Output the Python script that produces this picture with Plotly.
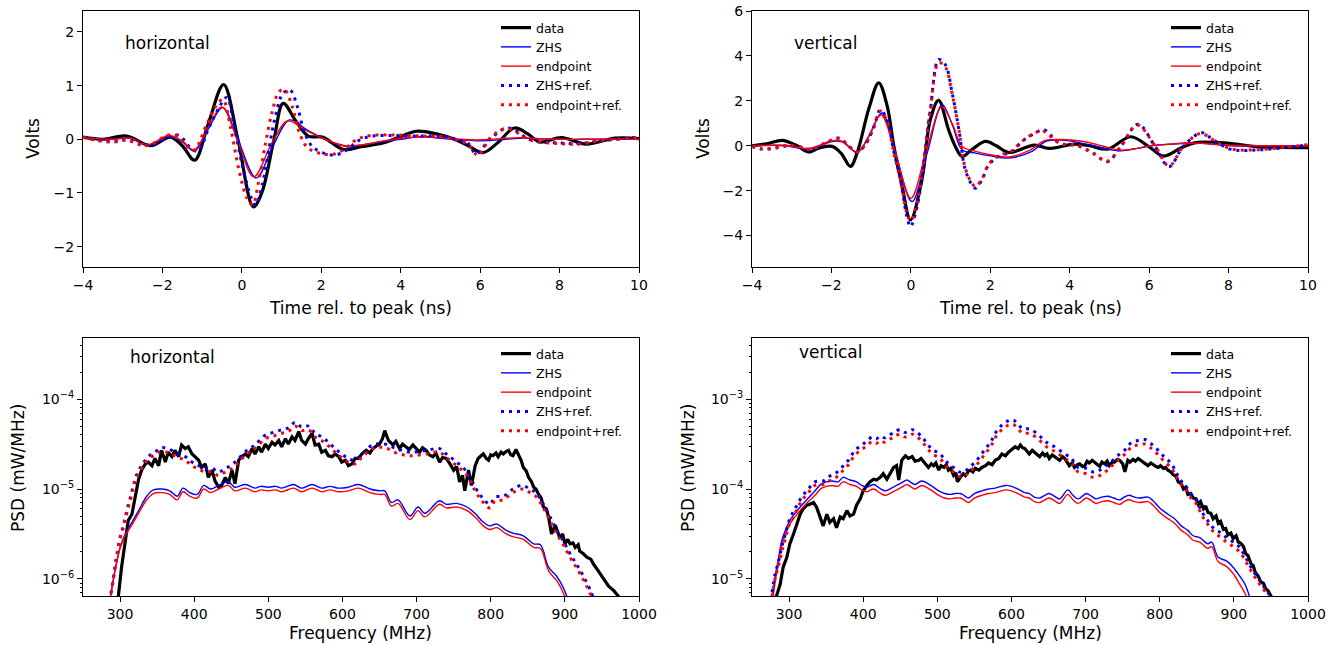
import numpy as np
import plotly.graph_objects as go

# ---------------- Top-left: horizontal time traces (ns, Volts) ----------------
h_t_data = [-4.0, -3.5, -2.9, -2.3, -1.8, -1.5, -1.19, -0.85, -0.46, -0.1, 0.29, 0.5, 0.81, 1.04, 1.35, 1.67, 2.03, 2.56, 3.0, 3.55,
            4.0, 4.4, 4.9, 5.35, 5.7, 6.07, 6.45, 6.86, 7.2, 7.5, 8.05, 8.67, 9.4, 10.0]
h_v_data = [0.04, 0.0, 0.06, -0.12, 0.04, -0.12, -0.39, 0.28, 1.02, 0.0, -1.26, -1.0, 0.0, 0.67, 0.35, 0.06, 0.04, -0.19, -0.14, -0.07,
            0.05, 0.15, 0.1, 0.0, -0.12, -0.25, -0.06, 0.21, 0.1, -0.05, 0.03, -0.09, 0.02, 0.01]

h_t_zhs = [-4.0, -3.3, -2.8, -2.37, -1.82, -1.5, -1.19, -0.86, -0.48, -0.1, 0.36, 0.8, 1.2, 1.65, 2.15, 2.66, 3.08, 3.5, 4.0, 4.5,
           5.0, 5.5, 6.0, 6.5, 7.0, 7.5, 8.0, 9.0, 10.0]
h_v_zhs = [0.03, 0.0, 0.02, -0.11, 0.04, -0.05, -0.22, 0.17, 0.59, 0.0, -0.72, -0.1, 0.36, 0.17, -0.02, -0.14, -0.1, -0.05, 0.0, 0.05,
           0.02, -0.01, -0.03, -0.01, 0.02, 0.01, 0.0, 0.0, 0.0]

h_t_end = [-4.0, -3.3, -2.8, -2.37, -1.85, -1.5, -1.2, -0.86, -0.5, -0.12, 0.3, 0.75, 1.15, 1.6, 2.1, 2.6, 3.05, 3.5, 4.0, 4.5,
           5.0, 5.5, 6.0, 6.5, 7.0, 7.5, 8.0, 9.0, 10.0]
h_v_end = [0.03, 0.0, 0.02, -0.1, 0.07, -0.03, -0.2, 0.2, 0.6, 0.0, -0.7, -0.08, 0.34, 0.17, 0.0, -0.12, -0.1, -0.04, 0.02, 0.04,
           0.03, 0.0, -0.01, 0.01, 0.03, 0.01, 0.0, 0.0, 0.0]

h_t_zhsref = [-4.0, -3.6, -3.2, -2.9, -2.33, -1.78, -1.57, -1.32, -1.11, -0.82, -0.57, -0.38, -0.19, 0.02, 0.23, 0.34, 0.52, 0.69, 0.86, 1.03,
              1.21, 1.4, 1.57, 1.78, 2.11, 2.37, 2.62, 2.95, 3.29, 3.8, 4.5, 5.0, 5.35, 5.7, 5.9, 6.25, 6.7, 7.3, 8.0, 8.5,
              9.0, 10.0]
h_v_zhsref = [0.04, -0.02, -0.04, -0.01, -0.11, 0.06, 0.07, -0.14, -0.22, 0.23, 0.6, 0.78, 0.23, -0.52, -1.08, -1.23, -0.83, -0.14, 0.48, 0.85,
              0.92, 0.6, 0.14, -0.14, -0.27, -0.29, -0.21, -0.02, 0.06, 0.07, 0.06, 0.06, 0.01, -0.08, -0.27, 0.0, 0.21, -0.02, -0.07, -0.08,
              -0.03, 0.04]

h_t_endref = [-4.0, -3.6, -3.2, -2.9, -2.4, -1.85, -1.65, -1.4, -1.2, -0.9, -0.65, -0.48, -0.28, -0.08, 0.13, 0.27, 0.42, 0.59, 0.76, 0.93,
              1.07, 1.28, 1.45, 1.66, 2.03, 2.3, 2.55, 2.9, 3.25, 3.8, 4.5, 5.0, 5.35, 5.7, 5.95, 6.25, 6.65, 7.3, 8.0, 8.5,
              9.0, 10.0]
h_v_endref = [0.04, -0.03, -0.05, -0.02, -0.12, 0.08, 0.07, -0.12, -0.2, 0.25, 0.62, 0.74, 0.2, -0.55, -1.1, -1.22, -0.8, -0.1, 0.5, 0.88,
              0.93, 0.58, 0.12, -0.16, -0.27, -0.28, -0.2, 0.0, 0.07, 0.08, 0.06, 0.05, 0.0, -0.1, -0.3, 0.02, 0.2, -0.02, -0.08, -0.09,
              -0.03, 0.03]

# ---------------- Top-right: vertical time traces ----------------
v_t_data = [-4.0, -3.6, -3.24, -2.9, -2.57, -2.3, -1.98, -1.75, -1.52, -1.35, -1.05, -0.81, -0.6, -0.43, -0.22, -0.01, 0.28, 0.49, 0.70, 0.95,
            1.12, 1.29, 1.55, 1.88, 2.15, 2.47, 3.11, 3.48, 4.12, 4.5, 4.95, 5.54, 6.0, 6.36, 6.8, 7.14, 8.06, 8.7, 10.0]
v_v_data = [0.0, 0.1, 0.24, 0.03, -0.28, -0.1, -0.03, -0.35, -0.92, -0.3, 1.7, 2.8, 1.8, 0.0, -1.8, -3.3, -1.5, 1.16, 2.02, 0.71,
            -0.03, -0.48, -0.15, 0.19, 0.0, -0.3, 0.03, -0.12, 0.07, 0.0, -0.15, 0.4, -0.05, -0.46, -0.1, 0.13, 0.1, -0.04, -0.09]

v_t_zhs = [-4.0, -3.16, -2.57, -1.98, -1.73, -1.35, -1.06, -0.73, -0.39, 0.03, 0.41, 0.79, 1.05, 1.29, 1.63, 2.0, 2.47, 3.05, 3.4, 3.8,
           4.2, 4.6, 4.95, 5.3, 5.7, 6.04, 6.6, 7.14, 8.06, 9.0, 10.0]
v_v_zhs = [0.0, 0.0, -0.15, 0.19, 0.17, -0.3, 0.42, 1.46, -0.3, -2.49, -0.33, 1.83, 0.9, -0.18, -0.33, -0.45, -0.55, -0.25, 0.2, 0.25,
           0.15, 0.0, -0.16, -0.22, -0.12, 0.0, 0.08, 0.13, 0.0, 0.0, 0.0]

v_t_end = [-4.0, -3.16, -2.57, -1.98, -1.73, -1.35, -1.06, -0.75, -0.4, 0.0, 0.38, 0.78, 1.05, 1.29, 1.63, 2.0, 2.47, 3.0, 3.35, 3.8,
           4.3, 4.7, 5.0, 5.3, 5.7, 6.04, 6.6, 7.14, 8.06, 9.0, 10.0]
v_v_end = [0.0, 0.02, -0.12, 0.22, 0.2, -0.28, 0.42, 1.38, -0.25, -2.34, -0.3, 1.73, 0.95, -0.03, -0.25, -0.4, -0.5, -0.2, 0.22, 0.28,
           0.2, 0.05, -0.1, -0.2, -0.12, 0.0, 0.08, 0.12, 0.02, 0.0, 0.0]

v_t_zhsref = [-4.0, -3.75, -3.41, -3.08, -2.78, -2.53, -2.19, -1.82, -1.57, -1.36, -1.15, -0.94, -0.77, -0.6, -0.43, -0.26, -0.1, -0.01, 0.16, 0.32,
              0.49, 0.70, 0.87, 1.04, 1.21, 1.37, 1.54, 1.63, 1.79, 1.96, 2.21, 2.55, 2.8, 3.14, 3.35, 3.75, 4.2, 4.6, 4.95, 5.3,
              5.72, 6.14, 6.5, 6.87, 7.33, 7.6, 8.06, 8.7, 9.43, 10.0]
v_v_zhsref = [-0.03, -0.15, -0.1, 0.0, -0.06, -0.18, 0.07, 0.34, 0.0, -0.3, 0.04, 0.79, 1.6, 1.16, -0.25, -1.52, -3.15, -3.6, -2.7, -0.77,
              1.6, 3.84, 3.6, 2.35, 0.71, -1.07, -1.74, -1.89, -1.52, -0.85, -0.48, -0.25, 0.19, 0.57, 0.72, 0.1, 0.0, -0.35, -0.71, 0.0,
              0.96, 0.0, -0.93, 0.0, 0.58, 0.28, -0.16, -0.19, -0.08, 0.04]

v_t_endref = [-4.0, -3.75, -3.41, -3.08, -2.78, -2.53, -2.19, -1.82, -1.57, -1.36, -1.15, -0.94, -0.77, -0.6, -0.43, -0.26, -0.1, 0.0, 0.16, 0.32,
              0.49, 0.70, 0.87, 1.04, 1.21, 1.37, 1.54, 1.63, 1.79, 1.96, 2.21, 2.55, 2.8, 3.14, 3.3, 3.75, 4.2, 4.6, 4.95, 5.3,
              5.7, 6.14, 6.5, 6.87, 7.3, 7.6, 8.06, 8.7, 9.43, 10.0]
v_v_endref = [-0.03, -0.14, -0.1, 0.02, -0.05, -0.16, 0.1, 0.32, 0.0, -0.28, 0.06, 0.82, 1.55, 1.1, -0.3, -1.55, -3.0, -3.35, -2.55, -0.72,
              1.6, 3.7, 3.5, 2.3, 0.72, -1.0, -1.68, -1.82, -1.48, -0.82, -0.45, -0.22, 0.2, 0.58, 0.68, 0.12, 0.02, -0.33, -0.68, 0.0,
              0.92, 0.02, -0.9, 0.0, 0.55, 0.27, -0.14, -0.18, -0.07, 0.05]

# ---------------- Bottom-left: horizontal PSD (MHz, log10 of mW/MHz) ----------------
hf_data = [294, 298, 302, 307, 311, 316, 320, 325, 329, 334,
           338, 343, 347, 352, 356, 361, 365, 370, 374, 379,
           383, 388, 392, 397, 401, 406, 410, 415, 419, 424,
           428, 433, 437, 442, 446, 451, 455, 460, 464, 469,
           473, 478, 482, 487, 491, 496, 500, 505, 509, 514,
           518, 523, 527, 532, 536, 541, 545, 550, 554, 559,
           563, 568, 572, 577, 581, 586, 590, 595, 599, 604,
           608, 613, 617, 622, 626, 632, 637, 641, 646, 650,
           654, 657, 662, 668, 672, 677, 681, 686, 690, 695,
           700, 704, 708, 713, 717, 722, 726, 731, 735, 740,
           745, 750, 754, 758, 762, 765, 770, 774, 779, 783,
           787, 790, 794, 797, 800, 803, 807, 810, 814, 817,
           821, 824, 827, 830, 834, 837, 841, 844, 848, 851,
           855, 858, 861, 864, 868, 871, 875, 878, 882, 887,
           893, 897, 900, 904, 907, 911, 914, 918, 920, 925,
           930, 935, 939, 945, 952, 959, 966, 972, 977]
hL_data = [-6.35, -6.17, -5.87, -5.58, -5.35, -5.28, -5.09, -4.89, -4.79, -4.72,
           -4.70, -4.74, -4.66, -4.74, -4.57, -4.70, -4.59, -4.64, -4.57, -4.64,
           -4.51, -4.55, -4.53, -4.61, -4.64, -4.68, -4.76, -4.72, -4.87, -4.79,
           -4.91, -4.98, -4.96, -4.87, -4.94, -4.79, -4.94, -4.68, -4.64, -4.61,
           -4.64, -4.55, -4.61, -4.53, -4.59, -4.50, -4.55, -4.48, -4.51, -4.46,
           -4.53, -4.44, -4.50, -4.42, -4.46, -4.36, -4.46, -4.50, -4.44, -4.38,
           -4.51, -4.50, -4.59, -4.57, -4.63, -4.64, -4.61, -4.64, -4.70, -4.68,
           -4.74, -4.72, -4.66, -4.66, -4.61, -4.57, -4.60, -4.55, -4.52, -4.50,
           -4.44, -4.35, -4.46, -4.51, -4.47, -4.55, -4.50, -4.53, -4.56, -4.51,
           -4.55, -4.59, -4.54, -4.57, -4.62, -4.64, -4.60, -4.70, -4.65, -4.66,
           -4.72, -4.79, -4.75, -4.92, -4.85, -5.02, -4.79, -4.96, -4.74, -4.66,
           -4.63, -4.61, -4.66, -4.68, -4.62, -4.63, -4.60, -4.64, -4.59, -4.61,
           -4.58, -4.57, -4.62, -4.63, -4.56, -4.61, -4.68, -4.76, -4.80, -4.87,
           -4.92, -4.98, -5.00, -5.05, -5.10, -5.20, -5.22, -5.31, -5.50, -5.40,
           -5.54, -5.50, -5.61, -5.56, -5.61, -5.60, -5.65, -5.62, -5.69, -5.72,
           -5.76, -5.78, -5.84, -5.91, -5.99, -6.08, -6.13, -6.19, -6.30]

hf_model = [286, 293, 300, 307, 316, 325, 336, 345, 356, 367,
            377, 385, 394, 404, 413, 422, 433, 446, 455, 469,
            482, 490, 500, 510, 518, 534, 545, 559, 572, 583,
            595, 608, 622, 637, 650, 657, 666, 675, 691, 702,
            711, 731, 740, 754, 768, 780, 790, 799, 808, 821,
            830, 844, 858, 867, 878, 889, 898, 905]
hL_zhs = [-6.25, -5.91, -5.65, -5.50, -5.37, -5.24, -5.08, -5.01, -5.00, -5.02,
          -5.08, -4.99, -5.04, -5.06, -4.96, -5.00, -4.96, -4.92, -4.98, -4.95,
          -4.99, -4.97, -4.98, -4.97, -4.99, -4.95, -4.99, -4.95, -4.99, -4.97,
          -4.99, -4.98, -4.95, -5.00, -5.02, -5.02, -5.15, -5.12, -5.30, -5.20,
          -5.27, -5.13, -5.17, -5.16, -5.20, -5.28, -5.37, -5.41, -5.39, -5.46,
          -5.49, -5.52, -5.61, -5.62, -5.87, -5.97, -6.10, -6.25]
hL_end = [-6.25, -5.92, -5.66, -5.52, -5.40, -5.27, -5.12, -5.05, -5.04, -5.06,
          -5.12, -5.03, -5.08, -5.10, -5.00, -5.04, -5.00, -4.96, -5.02, -4.99,
          -5.03, -5.01, -5.02, -5.01, -5.03, -4.99, -5.03, -4.99, -5.03, -5.01,
          -5.03, -5.02, -4.99, -5.04, -5.06, -5.06, -5.19, -5.16, -5.34, -5.24,
          -5.31, -5.17, -5.21, -5.20, -5.24, -5.32, -5.41, -5.45, -5.43, -5.50,
          -5.53, -5.56, -5.65, -5.66, -5.91, -6.02, -6.16, -6.32]

hf_ref = [286, 291, 295, 300, 305, 309, 314, 318, 322, 329,
          338, 347, 356, 367, 379, 388, 397, 406, 415, 424,
          433, 442, 451, 460, 471, 482, 496, 507, 518, 527,
          536, 545, 554, 563, 572, 581, 590, 599, 608, 617,
          626, 641, 657, 673, 691, 713, 731, 740, 754, 768,
          779, 788, 799, 806, 817, 830, 842, 853, 862, 871,
          880, 889, 898, 907, 916, 925, 934, 942]
hL_zhsref = [-6.25, -5.99, -5.76, -5.54, -5.39, -5.24, -5.09, -4.96, -4.85, -4.74,
             -4.64, -4.59, -4.54, -4.56, -4.61, -4.64, -4.70, -4.74, -4.77, -4.77,
             -4.81, -4.77, -4.73, -4.66, -4.57, -4.51, -4.40, -4.37, -4.34, -4.32,
             -4.26, -4.31, -4.30, -4.38, -4.42, -4.48, -4.55, -4.61, -4.66, -4.68,
             -4.61, -4.51, -4.50, -4.55, -4.59, -4.57, -4.55, -4.61, -4.70, -4.81,
             -4.98, -5.09, -5.17, -5.09, -5.08, -5.00, -4.96, -5.00, -5.05, -5.17,
             -5.31, -5.46, -5.58, -5.72, -5.84, -5.97, -6.12, -6.30]
hL_endref = [-6.25, -6.00, -5.78, -5.56, -5.41, -5.27, -5.12, -4.99, -4.88, -4.77,
             -4.67, -4.62, -4.58, -4.60, -4.65, -4.68, -4.74, -4.78, -4.81, -4.81,
             -4.85, -4.81, -4.77, -4.70, -4.61, -4.55, -4.44, -4.41, -4.38, -4.36,
             -4.30, -4.35, -4.34, -4.42, -4.46, -4.52, -4.59, -4.65, -4.70, -4.72,
             -4.65, -4.55, -4.54, -4.60, -4.63, -4.61, -4.59, -4.65, -4.74, -4.85,
             -5.02, -5.13, -5.21, -5.13, -5.12, -5.04, -5.00, -5.04, -5.09, -5.21,
             -5.35, -5.50, -5.62, -5.76, -5.88, -6.01, -6.16, -6.34]

# ---------------- Bottom-right: vertical PSD ----------------
vf_data = [281, 283, 288, 292, 297, 301, 306, 310, 315, 319,
           324, 328, 333, 337, 342, 346, 351, 355, 360, 364,
           369, 373, 378, 382, 387, 391, 396, 400, 405, 409,
           414, 418, 423, 427, 432, 436, 441, 445, 448, 452,
           457, 461, 466, 470, 475, 478, 482, 485, 488, 492,
           495, 498, 502, 505, 509, 512, 515, 518, 522, 525,
           527, 531, 535, 538, 542, 545, 548, 551, 556, 560,
           565, 569, 574, 578, 583, 587, 592, 596, 600, 605,
           609, 612, 615, 618, 621, 624, 628, 631, 635, 638,
           642, 645, 648, 651, 655, 658, 662, 665, 669, 672,
           675, 678, 682, 685, 689, 692, 696, 699, 702, 705,
           709, 712, 716, 719, 722, 726, 729, 732, 736, 739,
           743, 746, 750, 753, 757, 760, 764, 767, 771, 774,
           777, 781, 784, 788, 791, 795, 798, 801, 805, 808,
           811, 815, 818, 822, 825, 829, 832, 835, 838, 842,
           845, 849, 852, 855, 859, 862, 865, 869, 872, 876,
           879, 882, 886, 889, 892, 896, 899, 903, 906, 909,
           913, 916, 919, 923, 926, 929, 933, 936, 940, 943,
           946, 949, 952]
vL_data = [-5.30, -5.19, -5.06, -4.87, -4.76, -4.61, -4.50, -4.39, -4.28, -4.22,
           -4.18, -4.17, -4.15, -4.20, -4.31, -4.41, -4.28, -4.37, -4.33, -4.43,
           -4.31, -4.33, -4.24, -4.30, -4.28, -4.18, -4.11, -4.02, -3.96, -3.92,
           -3.89, -3.90, -3.87, -3.83, -3.89, -3.83, -3.76, -3.74, -3.90, -3.68,
           -3.63, -3.66, -3.64, -3.69, -3.68, -3.66, -3.70, -3.72, -3.76, -3.72,
           -3.74, -3.71, -3.79, -3.74, -3.76, -3.73, -3.79, -3.77, -3.85, -3.82,
           -3.92, -3.87, -3.83, -3.85, -3.80, -3.79, -3.81, -3.77, -3.79, -3.76,
           -3.74, -3.71, -3.73, -3.68, -3.66, -3.61, -3.63, -3.59, -3.56, -3.53,
           -3.55, -3.51, -3.54, -3.55, -3.58, -3.61, -3.57, -3.59, -3.62, -3.64,
           -3.60, -3.63, -3.61, -3.66, -3.62, -3.64, -3.67, -3.68, -3.64, -3.66,
           -3.70, -3.74, -3.71, -3.76, -3.73, -3.72, -3.75, -3.74, -3.69, -3.71,
           -3.68, -3.70, -3.72, -3.75, -3.70, -3.72, -3.69, -3.74, -3.70, -3.70,
           -3.67, -3.68, -3.72, -3.81, -3.68, -3.70, -3.67, -3.69, -3.66, -3.68,
           -3.70, -3.72, -3.74, -3.71, -3.73, -3.75, -3.76, -3.74, -3.77, -3.76,
           -3.79, -3.81, -3.84, -3.86, -3.92, -3.94, -4.00, -3.98, -4.06, -4.05,
           -4.10, -4.11, -4.17, -4.14, -4.22, -4.19, -4.26, -4.27, -4.33, -4.30,
           -4.38, -4.36, -4.45, -4.44, -4.51, -4.49, -4.55, -4.52, -4.59, -4.60,
           -4.64, -4.72, -4.74, -4.83, -4.85, -4.93, -4.97, -5.03, -5.05, -5.11,
           -5.13, -5.17, -5.22]

vf_model = [277, 281, 286, 290, 295, 301, 308, 317, 326, 335,
            344, 358, 366, 373, 382, 391, 398, 405, 414, 422,
            430, 438, 445, 452, 459, 465, 470, 479, 491, 502,
            510, 518, 524, 531, 536, 542, 550, 560, 569, 578,
            592, 600, 611, 618, 624, 631, 638, 645, 651, 658,
            665, 676, 683, 690, 701, 708, 714, 722, 730, 738,
            746, 752, 759, 766, 773, 784, 791, 800, 811, 820,
            829, 838, 845, 854, 865, 870, 879, 890, 899, 908,
            915, 922]
vL_zhs = [-5.25, -4.99, -4.76, -4.58, -4.46, -4.35, -4.27, -4.18, -4.10, -4.02,
          -3.94, -3.91, -3.92, -3.87, -3.90, -3.92, -3.96, -3.98, -3.95, -3.99,
          -4.02, -3.99, -3.96, -3.93, -3.90, -3.93, -3.95, -3.91, -3.96, -4.02,
          -4.05, -4.06, -4.05, -4.05, -4.07, -4.10, -4.05, -4.02, -4.00, -3.99,
          -3.96, -3.97, -4.01, -4.04, -4.05, -4.09, -4.10, -4.07, -4.05, -4.08,
          -4.11, -4.01, -4.07, -4.11, -4.05, -4.08, -4.11, -4.09, -4.08, -4.10,
          -4.12, -4.09, -4.07, -4.09, -4.10, -4.09, -4.13, -4.21, -4.28, -4.33,
          -4.41, -4.46, -4.52, -4.54, -4.61, -4.59, -4.76, -4.80, -4.87, -4.97,
          -5.06, -5.22]
vL_end = [-5.30, -5.05, -4.80, -4.62, -4.50, -4.39, -4.31, -4.22, -4.14, -4.07,
          -3.99, -3.96, -3.97, -3.92, -3.95, -3.97, -4.01, -4.03, -4.00, -4.04,
          -4.07, -4.04, -4.01, -3.98, -3.95, -3.98, -4.00, -3.96, -4.01, -4.07,
          -4.10, -4.11, -4.10, -4.10, -4.12, -4.15, -4.10, -4.07, -4.05, -4.04,
          -4.01, -4.02, -4.06, -4.09, -4.10, -4.14, -4.15, -4.12, -4.10, -4.13,
          -4.16, -4.06, -4.12, -4.16, -4.10, -4.13, -4.16, -4.14, -4.13, -4.15,
          -4.17, -4.14, -4.12, -4.14, -4.15, -4.14, -4.18, -4.26, -4.33, -4.38,
          -4.46, -4.51, -4.57, -4.59, -4.66, -4.64, -4.81, -4.86, -4.94, -5.06,
          -5.16, -5.30]

vf_ref = [277, 281, 286, 290, 295, 301, 308, 317, 326, 335,
          346, 354, 362, 371, 380, 389, 398, 405, 412, 418,
          423, 429, 434, 440, 443, 450, 456, 461, 466, 470,
          479, 486, 493, 502, 509, 515, 522, 529, 536, 542,
          551, 558, 565, 572, 578, 587, 596, 602, 607, 615,
          621, 627, 638, 649, 658, 672, 681, 690, 701, 710,
          719, 728, 737, 746, 755, 762, 771, 780, 789, 798,
          807, 816, 823, 829, 836, 843, 850, 856, 863, 872,
          881, 890, 899, 908, 917, 926, 935, 944, 949, 953]
vL_zhsref = [-5.15, -4.95, -4.80, -4.65, -4.50, -4.33, -4.22, -4.09, -4.00, -3.92,
             -3.91, -3.86, -3.83, -3.76, -3.68, -3.57, -3.51, -3.47, -3.42, -3.44,
             -3.41, -3.43, -3.40, -3.38, -3.36, -3.34, -3.37, -3.36, -3.34, -3.35,
             -3.42, -3.49, -3.56, -3.60, -3.66, -3.72, -3.76, -3.81, -3.81, -3.77,
             -3.70, -3.63, -3.55, -3.48, -3.38, -3.29, -3.24, -3.23, -3.26, -3.33,
             -3.33, -3.34, -3.41, -3.49, -3.53, -3.61, -3.66, -3.76, -3.77, -3.81,
             -3.79, -3.74, -3.68, -3.61, -3.55, -3.48, -3.46, -3.45, -3.50, -3.57,
             -3.65, -3.72, -3.83, -3.91, -3.98, -4.07, -4.13, -4.24, -4.33, -4.43,
             -4.48, -4.54, -4.59, -4.65, -4.78, -4.91, -5.02, -5.13, -5.19, -5.25]
vL_endref = [-5.20, -5.00, -4.85, -4.70, -4.55, -4.38, -4.27, -4.13, -4.04, -3.96,
             -3.95, -3.91, -3.88, -3.81, -3.73, -3.62, -3.56, -3.52, -3.47, -3.49,
             -3.46, -3.48, -3.45, -3.43, -3.41, -3.39, -3.42, -3.41, -3.39, -3.40,
             -3.47, -3.54, -3.61, -3.65, -3.71, -3.77, -3.81, -3.86, -3.86, -3.82,
             -3.75, -3.68, -3.60, -3.53, -3.43, -3.34, -3.29, -3.28, -3.31, -3.38,
             -3.38, -3.39, -3.46, -3.54, -3.58, -3.66, -3.71, -3.81, -3.83, -3.87,
             -3.85, -3.80, -3.73, -3.66, -3.60, -3.53, -3.51, -3.50, -3.55, -3.62,
             -3.70, -3.77, -3.87, -3.95, -4.02, -4.11, -4.17, -4.28, -4.37, -4.47,
             -4.53, -4.59, -4.64, -4.70, -4.82, -4.95, -5.06, -5.16, -5.22, -5.28]

series_names = ["data", "ZHS", "endpoint", "ZHS+ref.", "endpoint+ref."]

# ---------------- figure ----------------
W, H = 1341, 645
FONT = "DejaVu Sans"


def fx(p):
    return p / W


def fy(p):
    return 1 - p / H


styles = {
    "data": dict(color="black", width=3.2),
    "ZHS": dict(color="#0000ff", width=1.4),
    "endpoint": dict(color="#ff0000", width=1.4),
    "ZHS+ref.": dict(color="#0000ff", width=3, dash="3px,5px"),
    "endpoint+ref.": dict(color="#ff0000", width=3, dash="3px,5px"),
}

fig = go.Figure()

panels = [
    ("x", "y", "legend", "spline", False, [
        (h_t_data, h_v_data), (h_t_zhs, h_v_zhs), (h_t_end, h_v_end),
        (h_t_zhsref, h_v_zhsref), (h_t_endref, h_v_endref)]),
    ("x2", "y2", "legend2", "spline", False, [
        (v_t_data, v_v_data), (v_t_zhs, v_v_zhs), (v_t_end, v_v_end),
        (v_t_zhsref, v_v_zhsref), (v_t_endref, v_v_endref)]),
    ("x3", "y3", "legend3", "linear", True, [
        (hf_data, hL_data), (hf_model, hL_zhs), (hf_model, hL_end),
        (hf_ref, hL_zhsref), (hf_ref, hL_endref)]),
    ("x4", "y4", "legend4", "linear", True, [
        (vf_data, vL_data), (vf_model, vL_zhs), (vf_model, vL_end),
        (vf_ref, vL_zhsref), (vf_ref, vL_endref)]),
]

for xa, ya, lg, shape, is_log, sers in panels:
    for name, (xs, ys) in zip(series_names, sers):
        yv = np.power(10.0, np.array(ys)) if is_log else ys
        sh = shape
        if name != "data" and is_log:
            sh = "spline"
        fig.add_trace(go.Scatter(
            x=xs, y=yv, mode="lines", name=name, line=dict(shape=sh, **styles[name]),
            xaxis=xa, yaxis=ya, legend=lg, showlegend=True, hoverinfo="skip"))

xl = [fx(83), fx(639)]
xr = [fx(752), fx(1308)]
yt = [fy(267), fy(11)]
yb = [fy(596), fy(338)]

tickfont = dict(family=FONT, size=14, color="black")
common = dict(showline=True, linecolor="black", linewidth=1, mirror=True, ticks="outside",
              ticklen=5, tickwidth=1, tickcolor="black", showgrid=False, zeroline=False,
              tickfont=tickfont, automargin=False)

minor_h = [k * 10.0 ** e for e in range(-7, -2) for k in range(2, 10)]
minor_v = [k * 10.0 ** e for e in range(-6, -1) for k in range(2, 10)]

fig.update_layout(
    width=W, height=H, margin=dict(l=0, r=0, t=0, b=0, pad=0, autoexpand=False),
    paper_bgcolor="white", plot_bgcolor="white",
    font=dict(family=FONT, color="black"),
    xaxis=dict(domain=xl, anchor="y", range=[-4, 10], tickvals=[-4, -2, 0, 2, 4, 6, 8, 10], **common),
    yaxis=dict(domain=yt, anchor="x", range=[-2.38, 2.39], tickvals=[-2, -1, 0, 1, 2], **common),
    xaxis2=dict(domain=xr, anchor="y2", range=[-4, 10], tickvals=[-4, -2, 0, 2, 4, 6, 8, 10], **common),
    yaxis2=dict(domain=yt, anchor="x2", range=[-5.4, 6.0], tickvals=[-4, -2, 0, 2, 4, 6], **common),
    xaxis3=dict(domain=xl, anchor="y3", range=[250, 1000], tickvals=[300, 400, 500, 600, 700, 800, 900, 1000], **common),
    yaxis3=dict(domain=yb, anchor="x3", type="log", range=[-6.19, -3.32],
                tickvals=[1e-6, 1e-5, 1e-4], ticktext=["10<sup>−6</sup>", "10<sup>−5</sup>", "10<sup>−4</sup>"],
                minor=dict(tickvals=minor_h, ticks="outside", ticklen=2.5, tickcolor="black", showgrid=False),
                **common),
    xaxis4=dict(domain=xr, anchor="y4", range=[250, 1000], tickvals=[300, 400, 500, 600, 700, 800, 900, 1000], **common),
    yaxis4=dict(domain=yb, anchor="x4", type="log", range=[-5.19, -2.32],
                tickvals=[1e-5, 1e-4, 1e-3], ticktext=["10<sup>−5</sup>", "10<sup>−4</sup>", "10<sup>−3</sup>"],
                minor=dict(tickvals=minor_v, ticks="outside", ticklen=2.5, tickcolor="black", showgrid=False),
                **common),
)

legend_common = dict(font=dict(family=FONT, size=12.5, color="black"), bgcolor="rgba(0,0,0,0)",
                     borderwidth=0, xanchor="right", yanchor="top", tracegroupgap=0, itemwidth=30)
fig.update_layout(
    legend=dict(x=fx(627), y=fy(13), **legend_common),
    legend2=dict(x=fx(1297), y=fy(13), **legend_common),
    legend3=dict(x=fx(627), y=fy(339), **legend_common),
    legend4=dict(x=fx(1297), y=fy(339), **legend_common),
)

ann_font = dict(family=FONT, size=17, color="black")
annotations = [
    dict(text="horizontal", x=fx(123), y=fy(43), xanchor="left", yanchor="middle"),
    dict(text="vertical", x=fx(792), y=fy(43), xanchor="left", yanchor="middle"),
    dict(text="horizontal", x=fx(128), y=fy(357), xanchor="left", yanchor="middle"),
    dict(text="vertical", x=fx(797), y=fy(352), xanchor="left", yanchor="middle"),
    dict(text="Volts", x=fx(33), y=fy(139), xanchor="center", yanchor="middle", textangle=-90),
    dict(text="Volts", x=fx(703), y=fy(139), xanchor="center", yanchor="middle", textangle=-90),
    dict(text="Time rel. to peak (ns)", x=fx(361), y=fy(308), xanchor="center", yanchor="middle"),
    dict(text="Time rel. to peak (ns)", x=fx(1030), y=fy(308), xanchor="center", yanchor="middle"),
    dict(text="PSD (mW/MHz)", x=fx(18), y=fy(468), xanchor="center", yanchor="middle", textangle=-90),
    dict(text="PSD (mW/MHz)", x=fx(688), y=fy(468), xanchor="center", yanchor="middle", textangle=-90),
    dict(text="Frequency (MHz)", x=fx(361), y=fy(633), xanchor="center", yanchor="middle"),
    dict(text="Frequency (MHz)", x=fx(1030), y=fy(633), xanchor="center", yanchor="middle"),
]
for a in annotations:
    a.update(xref="paper", yref="paper", showarrow=False, font=ann_font)
fig.update_layout(annotations=annotations)

fig.write_html("out.html", config={"displayModeBar": False},
               post_script="document.body.style.margin='0';document.body.style.overflow='hidden';")
